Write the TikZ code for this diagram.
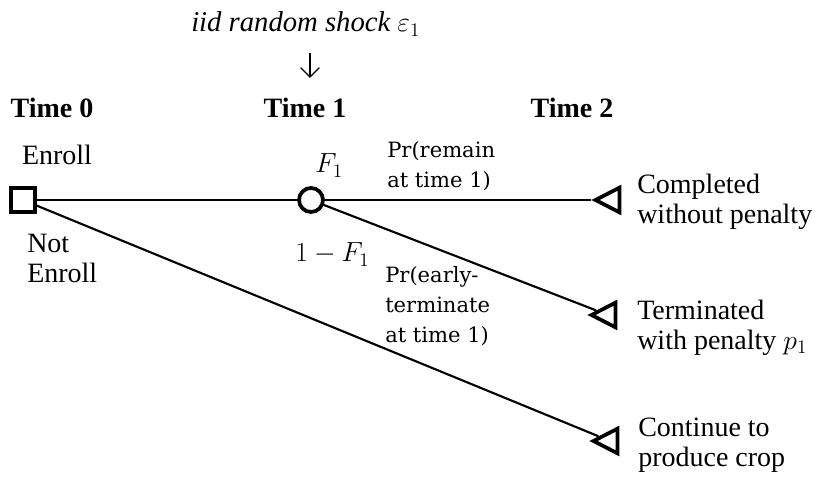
\documentclass[tikz,border=0pt]{standalone}
\usepackage{fontspec}
\setmainfont{Liberation Serif}
\newfontfamily\prfont{DejaVu Serif}
\usetikzlibrary{shapes,arrows,arrows.meta,positioning}
\tikzstyle{Decision} = [draw, rectangle, line width=2.8pt, minimum size=17.5pt, inner sep=0pt]
\tikzstyle{Chance} = [draw, circle, line width=2.8pt, minimum size=18pt, inner sep=0pt]
\tikzstyle{Outcome} = [draw, isosceles triangle, isosceles triangle stretches, shape border rotate=180, line width=2.8pt, minimum width=18.5pt, minimum height=18pt, inner sep=0pt]
\tikzstyle{Branch} = [line width=1.6pt]
\tikzstyle{Label} = [font=\fontsize{21}{22.5}\selectfont, inner sep=0pt, align=left]
\tikzstyle{Prob} = [font=\prfont\fontsize{15.8}{22.5}\selectfont, inner sep=0pt, align=left]
\tikzstyle{Head} = [font=\bfseries\fontsize{21}{22.5}\selectfont, inner sep=0pt]

\begin{document}
\begin{tikzpicture}[x=0.75pt,y=-0.75pt]
    \useasboundingbox (0,0) rectangle (821,484);
    % decision tree
    \node[Decision] (enroll)  at (23,200)  {};
    \node[Chance]   (shock)   at (311,200) {};
    \node[Outcome]  (done)    at (612,200) {};
    \node[Outcome]  (penalty) at (608,315) {};
    \node[Outcome]  (crop)    at (610,441) {};
    \draw[Branch] (enroll) -- (shock);
    \draw[Branch] (enroll) -- (crop);
    \draw[Branch] (shock)  -- (done);
    \draw[Branch] (shock)  -- (penalty);
    % time line
    \node[Head, anchor=base] (time0) at (52,118)  {Time 0};
    \node[Head, anchor=base] (time1) at (305,118) {Time 1};
    \node[Head, anchor=base] (time2) at (572,118) {Time 2};
    \node[Label, anchor=base west] (iid) at (191,32) {\fontsize{21.5}{22.5}\selectfont\itshape iid random shock \(\varepsilon_1\)};
    \coordinate (arrtop) at (310,53);
    \coordinate (arrbot) at (310,78);
    \draw[-{Straight Barb[length=7pt,width=14pt]}, line width=1pt] (arrtop) -- (arrbot);
    % labels
    \node[Label, anchor=base] (yes) at (57,165) {Enroll};
    \node[Label, anchor=north west] (no) at (27,234) {Not\\Enroll};
    \node[Label, anchor=base west] (f1) at (315,173) {\(F_1\)};
    \node[Label, anchor=base west] (f0) at (295,262) {\(1-F_1\)};
    \node[Prob, anchor=north west] (remain) at (387,141) {Pr(remain\\at time 1)};
    \node[Prob, anchor=north west] (early)  at (385,266) {Pr(early-\\terminate\\at time 1)};
    \node[Label, anchor=north west] (donetxt) at (637,174) {Completed\\without penalty};
    \node[Label, anchor=north west] (pentxt)  at (637,300) {Terminated\\with penalty \(p_1\)};
    \node[Label, anchor=north west] (croptxt) at (638,418) {Continue to\\produce crop};
\end{tikzpicture}
\end{document}
